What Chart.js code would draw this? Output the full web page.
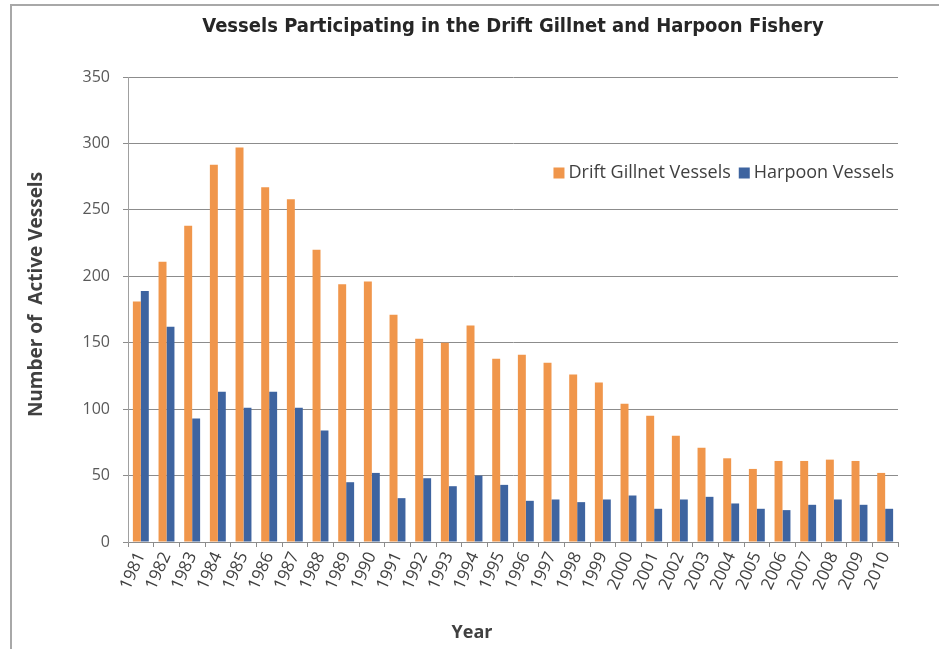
<!DOCTYPE html>
<html>
<head>
<meta charset="utf-8">
<script src="https://cdn.jsdelivr.net/npm/chart.js@4"></script>
<style>
  body { margin: 0; background: #fff; }
  #wrap { position: relative; width: 939px; height: 649px; }
  #frame {
    position: absolute; left: 10px; top: 4px; right: 0; bottom: 0;
    border-top: 2px solid #a8a8a8; border-left: 2px solid #a8a8a8;
    pointer-events: none;
  }
</style>
</head>
<body>
<div id="wrap">
  <canvas id="chart" width="939" height="649"></canvas>
  <div id="frame"></div>
</div>
<script>
const years = ['1981', '1982', '1983', '1984', '1985', '1986', '1987', '1988', '1989', '1990',
  '1991', '1992', '1993', '1994', '1995', '1996', '1997', '1998', '1999', '2000',
  '2001', '2002', '2003', '2004', '2005', '2006', '2007', '2008', '2009', '2010'];
const gillnet = [181, 211, 238, 284, 297, 267, 258, 220, 194, 196,
  171, 153, 150, 163, 138, 141, 135, 126, 120, 104,
  95, 80, 71, 63, 55, 61, 61, 62, 61, 52];
const harpoon = [189, 162, 93, 113, 101, 113, 101, 84, 45, 52,
  33, 48, 42, 50, 43, 31, 32, 30, 32, 35,
  25, 32, 34, 29, 25, 24, 28, 32, 28, 25];
const yTicks = [0, 50, 100, 150, 200, 250, 300, 350];

const gridColor = '#8c8c8c';
const textColor = '#404040';

// legend sits inside the plot, to the upper right
const innerLegend = {
  id: 'innerLegend',
  afterDraw(chart) {
    const ctx = chart.ctx;
    const area = chart.chartArea;
    ctx.save();
    ctx.font = '18px "Open Sans"';
    ctx.textBaseline = 'middle';
    const box = 11, gap = 4, itemGap = 8;
    const items = chart.data.datasets.map(ds => ({ text: ds.label, color: ds.backgroundColor }));
    let total = 0;
    items.forEach((it, i) => {
      it.w = ctx.measureText(it.text).width;
      total += box + gap + it.w + (i ? itemGap : 0);
    });
    let x = area.right - 4 - total;
    const y = area.top + 96;
    items.forEach(it => {
      ctx.fillStyle = it.color;
      ctx.fillRect(x, y - box / 2, box, box);
      x += box + gap;
      ctx.fillStyle = textColor;
      ctx.fillText(it.text, x, y);
      x += it.w + itemGap;
    });
    ctx.restore();
  }
};

// axis titles, placed as in the original
const axisTitles = {
  id: 'axisTitles',
  afterDraw(chart) {
    const ctx = chart.ctx;
    const a = chart.chartArea;
    ctx.save();
    ctx.fillStyle = textColor;
    ctx.textAlign = 'center';
    ctx.textBaseline = 'middle';
    ctx.font = 'bold 18px "Open Sans"';
    ctx.fillText('Year', (a.left + a.right) / 2 - 41, a.bottom + 91);
    ctx.font = 'bold 19px "Open Sans"';
    ctx.translate(a.left - 91, (a.top + a.bottom) / 2 - 15);
    ctx.rotate(-Math.PI / 2);
    ctx.fillText('Number of  Active Vessels', 0, 0);
    ctx.restore();
  }
};

new Chart(document.getElementById('chart'), {
  type: 'bar',
  data: {
    labels: years,
    datasets: [
      { label: 'Drift Gillnet Vessels', data: gillnet, backgroundColor: '#F0964B' },
      { label: 'Harpoon Vessels', data: harpoon, backgroundColor: '#3E64A0' }
    ]
  },
  options: {
    responsive: false,
    animation: false,
    devicePixelRatio: 1,
    layout: { padding: { left: 0, right: 41, top: 0, bottom: 0 } },
    datasets: { bar: { categoryPercentage: 0.62, barPercentage: 1.0 } },
    plugins: {
      legend: { display: false },
      tooltip: { enabled: false },
      title: {
        display: true,
        fullSize: false,
        text: 'Vessels Participating in the Drift Gillnet and Harpoon Fishery',
        color: '#262626',
        font: { family: '"DejaVu Sans Condensed", "DejaVu Sans"', size: 20, weight: 'bold' },
        padding: { top: 15, bottom: 38 }
      }
    },
    scales: {
      x: {
        grid: { drawOnChartArea: false, drawTicks: true, tickLength: 5, color: gridColor },
        border: { color: gridColor },
        ticks: {
          autoSkip: false, minRotation: 66, maxRotation: 66,
          color: textColor, padding: 2,
          font: { family: '"Open Sans"', size: 17 }
        },
        afterFit(scale) { scale.height = 107; }
      },
      y: {
        min: 0, max: 350,
        afterBuildTicks(scale) { scale.ticks = yTicks.map(v => ({ value: v })); },
        grid: { color: gridColor, tickLength: 5 },
        border: { color: '#a0a0a0' },
        ticks: {
          color: '#595959', padding: 13,
          font: { family: '"Open Sans"', size: 16 }
        },
        afterFit(scale) { scale.width = 128; }
      }
    }
  },
  plugins: [innerLegend, axisTitles]
});
</script>
</body>
</html>
